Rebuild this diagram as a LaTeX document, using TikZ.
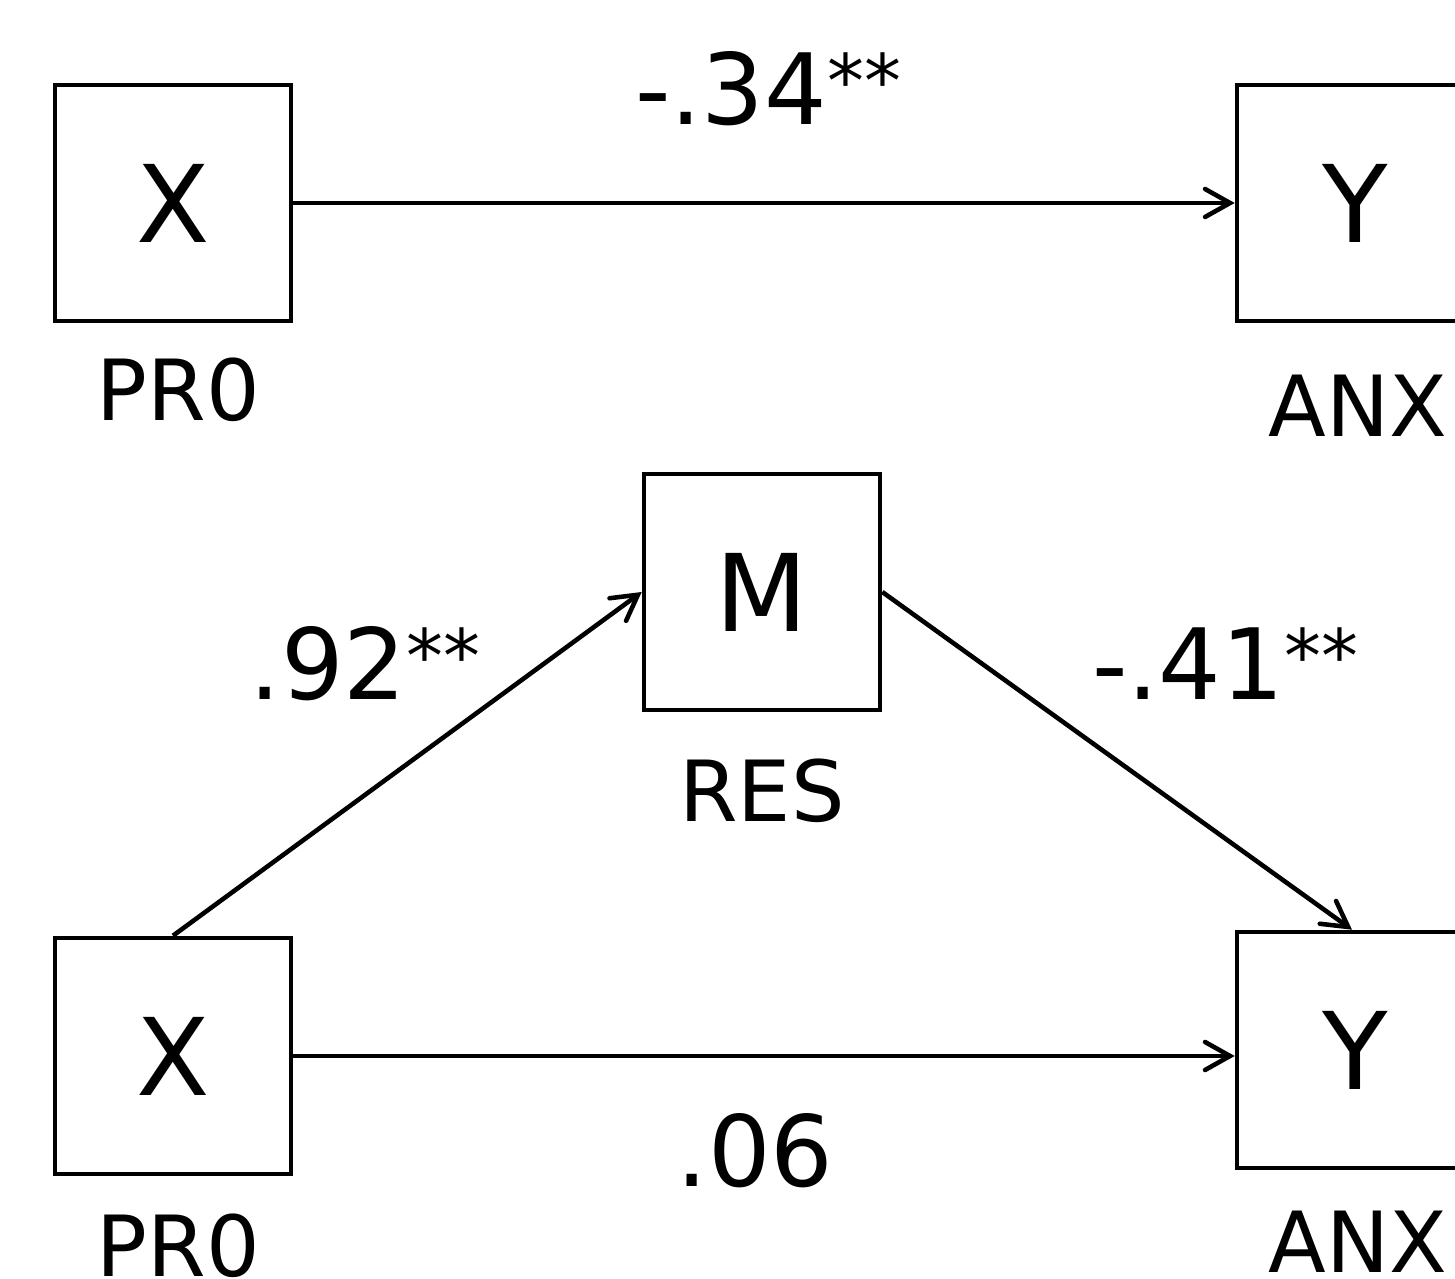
\documentclass[tikz,border=0pt]{standalone}
\usepackage{fontspec}
\setmainfont{DejaVu Sans}
\usepackage{xcolor}
\usepackage{tikz}
\usetikzlibrary{arrows.meta, positioning}

\newcommand{\sigstars}{\raisebox{5pt}{\fontsize{21}{25}\selectfont **}}

\begin{document}
\begin{tikzpicture}[
    var/.style={draw, line width=1.3pt, minimum width=2.36cm, minimum height=2.36cm, inner sep=0pt, font=\fontsize{30.5}{36}\selectfont},
    lbl/.style={anchor=base, inner sep=0pt, font=\fontsize{24}{29}\selectfont},
    coef/.style={anchor=base, inner sep=0pt, font=\fontsize{28}{34}\selectfont},
    path/.style={line width=1.3pt, -{Straight Barb[length=2.5mm, width=2.8mm, line cap=round]}}
  ]
      \clip (0,0) rectangle (14.55,12.79);

      \node[var] (x1) at (1.73,10.76) {X};
      \node[var] (y1) at (13.55,10.76) {Y};
      \node[lbl] (pro1) at (1.785,8.58) {PR0};
      \node[lbl] (anx1) at (13.58,8.42) {ANX};
      \draw[path] (x1.east) -- (y1.west);
      \node[coef] (c) at (7.68,11.54) {-.34\sigstars};

      \node[var] (m) at (7.62,6.87) {M};
      \node[lbl] (res) at (7.62,4.57) {RES};
      \node[var] (x2) at (1.73,2.23) {X};
      \node[var] (y2) at (13.55,2.29) {Y};
      \node[lbl] (pro2) at (1.785,0.03) {PR0};
      \node[lbl] (anx2) at (13.58,0.06) {ANX};

      \draw[path] (x2.north) -- (m.west);
      \draw[path] (m.east) -- ([xshift=-0.03cm]y2.north);
      \draw[path] (x2.east) -- (x2.east -| y2.west);

      \node[coef] (a) at (3.65,5.79) {.92\sigstars};
      \node[coef] (b) at (12.25,5.79) {-.41\sigstars};
      \node[coef] (cp) at (7.55,0.92) {.06};
\end{tikzpicture}
\end{document}
